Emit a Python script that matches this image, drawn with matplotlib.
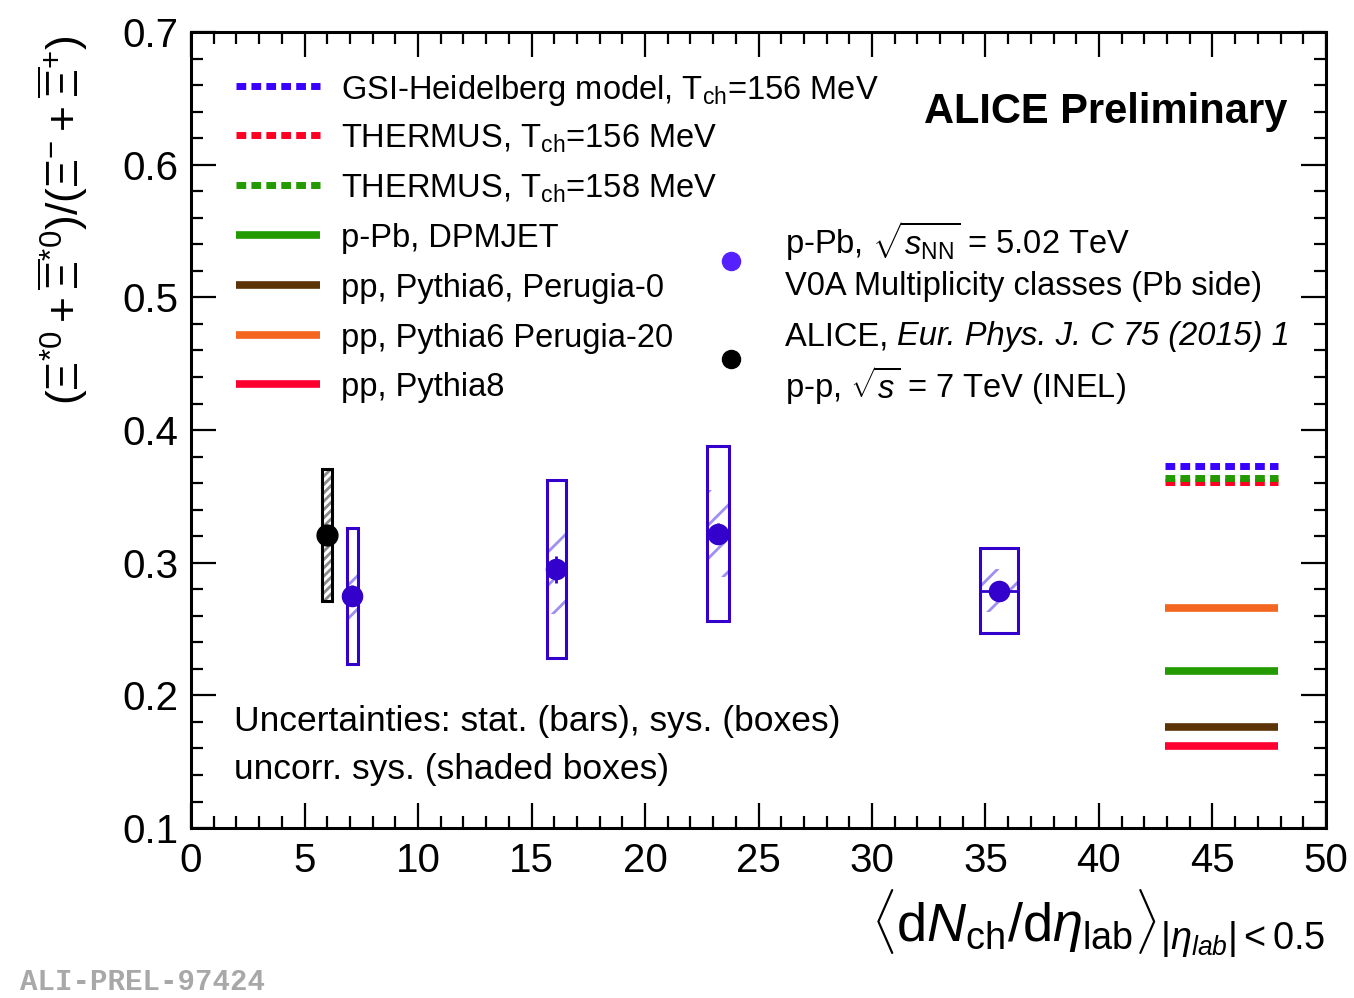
import matplotlib
matplotlib.use("Agg")
import matplotlib.pyplot as plt
from matplotlib.patches import Rectangle
from matplotlib.lines import Line2D

plt.rcParams["font.family"] = ["Liberation Sans", "DejaVu Sans"]
plt.rcParams["mathtext.fontset"] = "custom"
plt.rcParams["mathtext.rm"] = "Liberation Sans"
plt.rcParams["mathtext.it"] = "Liberation Sans:italic"
plt.rcParams["mathtext.bf"] = "Liberation Sans:bold"
plt.rcParams["hatch.linewidth"] = 2.0

# ---- p-Pb 5.02 TeV, V0A multiplicity classes ----
ppb_x = [7.1, 16.1, 23.2, 35.6]
ppb_y = [0.275, 0.295, 0.322, 0.279]
ppb_stat = [0.008, 0.010, 0.008, 0.005]
ppb_sys = [0.051, 0.067, 0.066, 0.032]
ppb_uncorr = [0.024, 0.034, 0.033, 0.016]
ppb_dx = [0.25, 0.40, 0.48, 0.84]

# ---- pp 7 TeV (INEL) ----
pp_x = [6.0]
pp_y = [0.321]
pp_stat = [0.006]
pp_sys = [0.050]
pp_dx = [0.22]

# ---- model predictions ----
model_labels = [
    "GSI-Heidelberg model, T$_{\\rm ch}$=156 MeV",
    "THERMUS, T$_{\\rm ch}$=156 MeV",
    "THERMUS, T$_{\\rm ch}$=158 MeV",
    "p-Pb, DPMJET",
    "pp, Pythia6, Perugia-0",
    "pp, Pythia6 Perugia-20",
    "pp, Pythia8",
]
model_values = [0.373, 0.361, 0.364, 0.218, 0.176, 0.266, 0.162]
model_colors = ["#3a00ff", "#ff0022", "#229a00", "#229a00", "#5c3306", "#f4661f", "#ff0030"]
model_dashed = [True, True, True, False, False, False, False]
model_xrange = (42.9, 47.9)

blue = "#3300cc"

fig = plt.figure(figsize=(13.54, 9.98), dpi=100)
ax = fig.add_axes([0.1411, 0.1703, 0.8382, 0.7976])
ax.set_xlim(0, 50)
ax.set_ylim(0.1, 0.7)

# model lines on the right
model_handles = []
for val, col, dashed in zip(model_values, model_colors, model_dashed):
    if dashed:
        ln, = ax.plot(model_xrange, [val, val], color=col, lw=5, dashes=(1.4, 0.75),
                      solid_capstyle="butt", dash_capstyle="butt")
    else:
        ln, = ax.plot(model_xrange, [val, val], color=col, lw=5.5, solid_capstyle="butt")
    model_handles.append(ln)
# keep green THERMUS on top of red THERMUS
model_handles[2].set_zorder(3)

# pp systematic boxes (shaded)
for x, y, s, dx in zip(pp_x, pp_y, pp_sys, pp_dx):
    ax.add_patch(Rectangle((x - dx, y - s), 2 * dx, 2 * s, facecolor="none",
                           edgecolor="#8a8a8a", hatch="////", lw=0, zorder=2))
    ax.add_patch(Rectangle((x - dx, y - s), 2 * dx, 2 * s, facecolor="none",
                           edgecolor="black", lw=2.2, zorder=3))

# p-Pb systematic boxes and uncorrelated (shaded) boxes
for x, y, s, u, dx in zip(ppb_x, ppb_y, ppb_sys, ppb_uncorr, ppb_dx):
    ax.add_patch(Rectangle((x - dx, y - u), 2 * dx, 2 * u, facecolor="none",
                           edgecolor="#9d90f2", hatch="/", lw=0, zorder=2))
    ax.add_patch(Rectangle((x - dx, y - s), 2 * dx, 2 * s, facecolor="none",
                           edgecolor=blue, lw=2.2, zorder=3))

ax.errorbar(pp_x, pp_y, yerr=pp_stat, fmt="o", color="black", ms=15,
            elinewidth=2, capsize=0, zorder=5)
ax.errorbar(ppb_x, ppb_y, yerr=ppb_stat, xerr=ppb_dx, fmt="o", color=blue, ms=14.5,
            elinewidth=2, capsize=0, zorder=5)

# ticks
ax.xaxis.set_major_locator(matplotlib.ticker.MultipleLocator(5))
ax.xaxis.set_minor_locator(matplotlib.ticker.MultipleLocator(1))
ax.yaxis.set_major_locator(matplotlib.ticker.MultipleLocator(0.1))
ax.yaxis.set_minor_locator(matplotlib.ticker.MultipleLocator(0.02))
ax.yaxis.set_major_formatter(matplotlib.ticker.FormatStrFormatter("%.1f"))
ax.tick_params(which="both", direction="in", top=True, right=True, width=1.6,
               labelsize=29)
ax.tick_params(which="major", length=18)
ax.tick_params(which="minor", length=8.5)
ax.tick_params(axis="x", pad=10)
ax.tick_params(axis="y", pad=9)
for sp in ax.spines.values():
    sp.set_linewidth(2.2)

# model legend drawn in axes coordinates
leg_rows = [0.932, 0.8706, 0.8078, 0.745, 0.682, 0.619, 0.558]
for row, lab, h in zip(leg_rows, model_labels, model_handles):
    sample = Line2D([0.0396, 0.1137], [row, row], transform=ax.transAxes,
                    color=h.get_color(), lw=h.get_linewidth(),
                    linestyle=h.get_linestyle(), solid_capstyle="butt",
                    dash_capstyle="butt")
    if h.get_linestyle() != "-":
        sample.set_dashes((1.4, 0.75))
    ax.add_line(sample)
    ax.text(0.132, row, lab, transform=ax.transAxes, fontsize=23.5,
            va="center_baseline", ha="left")

# data legend
ax.plot([0.4758], [0.712], "o", color="#5522ff", ms=13, transform=ax.transAxes)
ax.plot([0.4758], [0.589], "o", color="black", ms=13, transform=ax.transAxes)
ax.text(0.5233, 0.7425, r"p-Pb, $\sqrt{s_{\rm NN}}$ = 5.02 TeV", transform=ax.transAxes,
        fontsize=23.5, va="center_baseline")
ax.text(0.5233, 0.6847, "V0A Multiplicity classes (Pb side)", transform=ax.transAxes,
        fontsize=23.5, va="center_baseline")
t_alice = ax.text(0.5233, 0.6219, "ALICE, ", transform=ax.transAxes,
                  fontsize=23.5, va="center_baseline")
ax.text(0.5233, 0.5616, r"p-p, $\sqrt{s}$ = 7 TeV (INEL)", transform=ax.transAxes,
        fontsize=23.5, va="center_baseline")
fig.canvas.draw()
bb = t_alice.get_window_extent().transformed(ax.transAxes.inverted())
ax.text(bb.x1, 0.6219, "Eur. Phys. J. C 75 (2015) 1", transform=ax.transAxes,
        fontsize=23.5, style="italic", va="center_baseline")

ax.text(0.9656, 0.9058, "ALICE Preliminary", transform=ax.transAxes, fontsize=30,
        fontweight="bold", ha="right", va="center_baseline")

ax.text(0.0379, 0.138, "Uncertainties: stat. (bars), sys. (boxes)", transform=ax.transAxes,
        fontsize=25.5, va="center_baseline")
ax.text(0.0379, 0.078, "uncorr. sys. (shaded boxes)", transform=ax.transAxes,
        fontsize=25.5, va="center_baseline")

# axis titles
fig.text(0.9786, 0.0551,
         r"$\langle\mathrm{d}N_{\mathrm{ch}}/\mathrm{d}\eta_{\mathrm{lab}}\rangle_{|\eta_{lab}| < 0.5}$",
         fontsize=39, ha="right", va="baseline")
fig.text(0.046, 0.78,
         r"$(\Xi^{*0}+\overline{\Xi}^{*0})/(\Xi^{-}+\overline{\Xi}^{+})$",
         fontsize=32, rotation=90, ha="center", va="center")

fig.text(0.015, 0.002, "ALI-PREL-97424", fontsize=21, family="Liberation Mono",
         fontweight="bold", color="#a8a8a8", ha="left", va="bottom")

fig.savefig("out.png", dpi=100)
